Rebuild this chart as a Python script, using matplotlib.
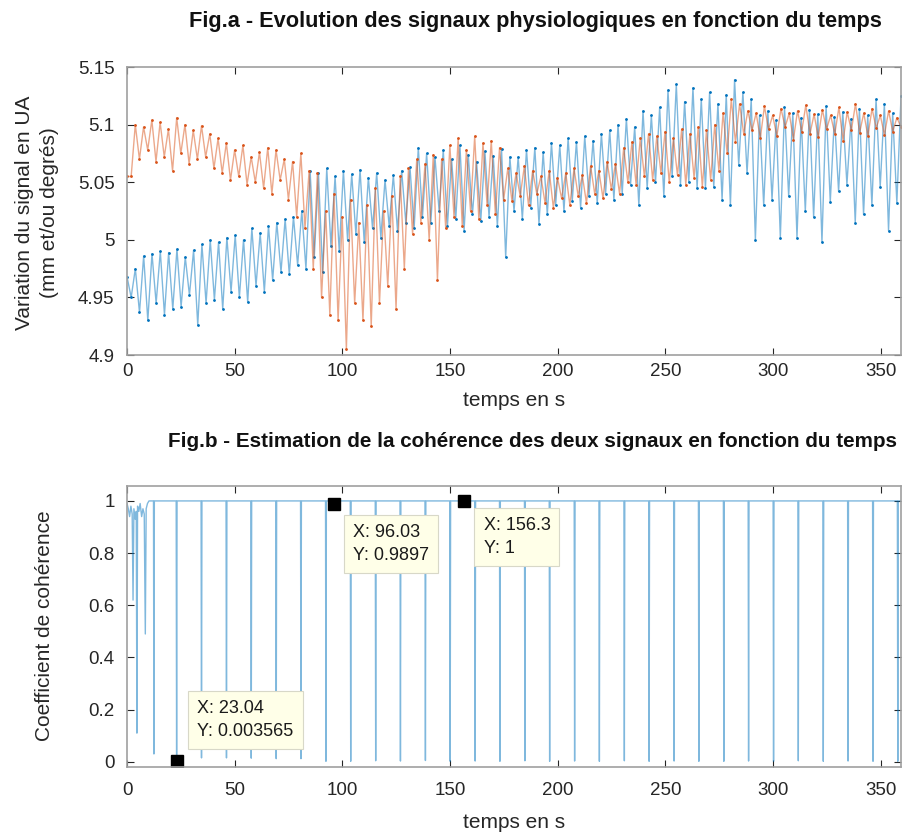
import numpy as np
import matplotlib
matplotlib.use("Agg")
import matplotlib.pyplot as plt

plt.rcParams['font.family'] = ['Liberation Sans', 'DejaVu Sans']

# ---- Fig.a : peaks / troughs of the two signals ----
blue_start = 4.968
blue_troughs = [4.950, 4.937, 4.930, 4.945, 4.935, 4.940, 4.942, 4.952, 4.926, 4.945, 4.948, 4.940,
                4.955, 4.950, 4.946, 4.960, 4.955, 4.965, 4.972, 4.970, 4.978,
                4.975, 4.985, 4.972, 4.995, 4.990, 5.000, 5.005, 4.998, 5.010, 5.002, 5.012, 5.008, 5.015,
                5.010, 5.020, 5.015, 5.025, 5.012, 5.018, 5.008, 5.022, 5.016, 5.020, 5.012, 4.985,
                5.025, 5.018, 5.028, 5.014, 5.022, 5.030, 5.025, 5.034, 5.028, 5.038, 5.032, 5.040, 5.035,
                5.040, 5.048, 5.030, 5.045, 5.050, 5.038, 5.055, 5.048,
                5.050, 5.045, 5.045, 5.046, 5.035, 5.030, 5.065, 5.058,
                5.000, 5.030, 5.035, 5.002, 5.038, 5.002, 5.025, 5.020, 4.998, 5.033, 5.042, 5.048,
                5.015, 5.022, 5.030, 5.046, 5.008, 5.032]
blue_peaks = [4.975, 4.986, 4.988, 4.990, 4.989, 4.992, 4.985, 4.991, 4.996, 5.000, 4.998, 5.002,
              5.004, 5.000, 5.010, 5.006, 5.012, 5.015, 5.018, 5.020, 5.025,
              5.060, 5.058, 5.062, 5.055, 5.060, 5.057, 5.061, 5.054, 5.058, 5.052, 5.056, 5.060, 5.063,
              5.080, 5.075, 5.072, 5.078, 5.070, 5.082, 5.074, 5.068, 5.077, 5.073, 5.079, 5.072,
              5.072, 5.078, 5.080, 5.076, 5.084, 5.082, 5.088, 5.085, 5.090, 5.086, 5.092, 5.095, 5.100,
              5.105, 5.098, 5.112, 5.108, 5.115, 5.130, 5.135, 5.120,
              5.132, 5.122, 5.128, 5.118, 5.126, 5.139, 5.128, 5.122,
              5.108, 5.112, 5.104, 5.115, 5.110, 5.106, 5.113, 5.109, 5.116, 5.107, 5.111, 5.105,
              5.114, 5.108, 5.122, 5.118, 5.110, 5.125]

red_start = [5.055, 5.055]
red_peaks = [5.100, 5.098, 5.104, 5.102, 5.096, 5.106, 5.100, 5.095, 5.099, 5.092,
             5.088, 5.084, 5.078, 5.082, 5.072, 5.076, 5.080, 5.078,
             5.070, 5.068, 5.075, 5.060, 5.058,
             5.025, 5.040, 5.020, 5.035, 5.015, 5.030, 5.045, 5.025, 5.038, 5.055,
             5.062, 5.070, 5.066, 5.074, 5.070,
             5.082, 5.088, 5.078, 5.090, 5.084, 5.086, 5.080,
             5.062, 5.058, 5.064, 5.060, 5.055, 5.060, 5.054, 5.058, 5.062, 5.056, 5.064, 5.060, 5.068, 5.066,
             5.080, 5.085, 5.088, 5.092, 5.090, 5.094, 5.088, 5.096, 5.092, 5.098, 5.095, 5.100, 5.110, 5.122,
             5.118, 5.112, 5.110, 5.116, 5.108, 5.114, 5.110, 5.112, 5.117, 5.109,
             5.113, 5.108, 5.115, 5.111, 5.118, 5.110, 5.114, 5.108, 5.112, 5.106]
red_troughs = [5.070, 5.078, 5.068, 5.072, 5.060, 5.075, 5.066, 5.070, 5.072, 5.062,
               5.058, 5.052, 5.055, 5.048, 5.050, 5.045, 5.040, 5.052,
               5.035, 5.020, 5.010, 4.975, 4.950,
               4.935, 4.930, 4.905, 4.945, 4.930, 4.925, 4.945, 4.960, 4.940, 4.975,
               5.005, 5.015, 5.000, 4.965, 5.010,
               5.020, 5.012, 5.025, 5.018, 5.030, 5.022, 5.035,
               5.034, 5.038, 5.030, 5.040, 5.032, 5.028, 5.036, 5.030, 5.038, 5.032, 5.040, 5.036, 5.044, 5.040,
               5.050, 5.048, 5.055, 5.052, 5.058, 5.050, 5.056, 5.048, 5.054, 5.046, 5.052, 5.060, 5.075, 5.085,
               5.092, 5.095, 5.088, 5.096, 5.090, 5.098, 5.087, 5.094, 5.092, 5.089,
               5.096, 5.092, 5.086, 5.095, 5.093, 5.090, 5.097, 5.091, 5.094, 5.098]

# ---- Fig.b : coherence, early wobble then narrow dips ----
coh_early_t = [0, 0.6, 1.2, 1.8, 2.4, 2.8, 3.2, 3.8, 4.3, 4.6, 4.9, 5.5, 6.1, 6.8, 7.4, 8.0, 8.5, 8.9, 9.5, 10.2]
coh_early_v = [0.99, 0.97, 0.94, 0.98, 0.95, 0.62, 0.97, 0.93, 0.96, 0.11, 0.98, 0.96, 0.99, 0.94,
               0.97, 0.95, 0.49, 0.97, 0.99, 1.0]
dip_t = [12.5, 23.04, 34.6, 46.2, 57.7, 69.3, 80.8, 92.4, 103.9, 115.5, 127.0, 138.6, 150.1,
         161.7, 173.2, 184.8, 196.3, 207.9, 219.4, 231.0, 242.5, 254.1, 265.6, 277.2, 288.7,
         300.3, 311.8, 323.4, 334.9, 346.5, 358.0]
dip_v = [0.03, 0.003565, 0.015, 0.015, 0.014, 0.012, 0.012, 0.002, 0.002, 0.004, 0.003, 0.005, 0.002,
         0.003, 0.002, 0.004, 0.002, 0.003, 0.002, 0.004, 0.002, 0.003, 0.002, 0.002, 0.003,
         0.002, 0.004, 0.002, 0.003, 0.002, 0.002]
tips_x = [23.04, 96.03, 156.3]
tips_y = [0.003565, 0.9897, 1.0]
tips_txt = ["X: 23.04\nY: 0.003565", "X: 96.03\nY: 0.9897", "X: 156.3\nY: 1"]

BLUE = '#0072BD'
RED = '#D95319'
GREY = '#262626'
W, H = 904, 834


def style(ax, xpad=6):
    ax.tick_params(direction='in', length=5, width=0.8, top=True, right=True,
                   labelsize=13.5, colors=GREY)
    ax.tick_params(axis='y', pad=9)
    ax.tick_params(axis='x', pad=xpad)
    for s in ax.spines.values():
        s.set_color('#a0a0a0')
        s.set_linewidth(1.2)


fig = plt.figure(figsize=(9.04, 8.34), dpi=100)

# top panel
ax1 = fig.add_axes([0.1405, 0.5743, 0.8562, 0.3453])
bv = [blue_start]
for tr, pk in zip(blue_troughs, blue_peaks):
    bv += [tr, pk]
rv = list(red_start)
for pk, tr in zip(red_peaks, red_troughs):
    rv += [pk, tr]
tb = np.linspace(0, 359.5, len(bv))
tr_ = np.linspace(0, 359.5, len(rv))
ax1.plot(tb, bv, color=BLUE, lw=1.0, alpha=0.5)
ax1.plot(tb, bv, '.', color=BLUE, ms=2)
ax1.plot(tr_, rv, color=RED, lw=1.0, alpha=0.5)
ax1.plot(tr_, rv, '.', color=RED, ms=2)
ax1.set_xlim(0, 359.5)
ax1.set_ylim(4.9, 5.15)
ax1.set_xticks(range(0, 351, 50))
ax1.set_yticks([4.9, 4.95, 5.0, 5.05, 5.1, 5.15])
ax1.set_yticklabels(['4.9', '4.95', '5', '5.05', '5.1', '5.15'])
style(ax1)
fig.text(514 / W, 1 - 401 / H, 'temps en s', ha='center', va='center', fontsize=15, color=GREY)
fig.text(25 / W, 1 - 213 / H, 'Variation du signal en UA', rotation=90,
         ha='center', va='center', fontsize=15, color=GREY)
fig.text(50 / W, 1 - 213 / H, '(mm et/ou degrés)', rotation=90,
         ha='center', va='center', fontsize=15, color=GREY)
fig.text(535 / W, 1 - 22 / H, 'Fig.a - Evolution des signaux physiologiques en fonction du temps',
         ha='center', va='center', fontsize=15.7, weight='bold', color='#111111')

# bottom panel
ax2 = fig.add_axes([0.1405, 0.0803, 0.8562, 0.3369])
ct = list(coh_early_t)
cv = list(coh_early_v)
for t, v in zip(dip_t, dip_v):
    ct += [t - 0.2, t, t + 0.2]
    cv += [1.0, v, 1.0]
ct.append(359.5)
cv.append(1.0)
ax2.plot(ct, cv, color=BLUE, lw=1.0, alpha=0.5)
ax2.plot(tips_x, tips_y, 's', color='black', ms=9)
ax2.set_xlim(0, 359.5)
ax2.set_ylim(-0.02, 1.057)
ax2.set_xticks(range(0, 351, 50))
ax2.set_yticks([0, 0.2, 0.4, 0.6, 0.8, 1.0])
ax2.set_yticklabels(['0', '0.2', '0.4', '0.6', '0.8', '1'])
style(ax2, xpad=11)
fig.text(514 / W, 1 - 823 / H, 'temps en s', ha='center', va='center', fontsize=15, color=GREY)
fig.text(45 / W, 1 - 626 / H, 'Coefficient de cohérence', rotation=90,
         ha='center', va='center', fontsize=15, color=GREY)
fig.text(533 / W, 1 - 441 / H,
         'Fig.b - Estimation de la cohérence des deux signaux en fonction du temps',
         ha='center', va='center', fontsize=14.9, weight='bold', color='#111111')

offsets = [(15, 15, 'bottom'), (13.7, -14.4, 'top'), (14.4, -11.5, 'top')]
for x, y, txt, (dx, dy, va) in zip(tips_x, tips_y, tips_txt, offsets):
    ax2.annotate(txt, xy=(x, y), xytext=(dx, dy), textcoords='offset points',
                 ha='left', va=va, fontsize=13, color='#1a1a1a', linespacing=1.5,
                 bbox=dict(boxstyle='square,pad=0.5', fc='#ffffe8', ec='#d8d8c8', lw=0.8))

fig.savefig('out.png', dpi=100)
